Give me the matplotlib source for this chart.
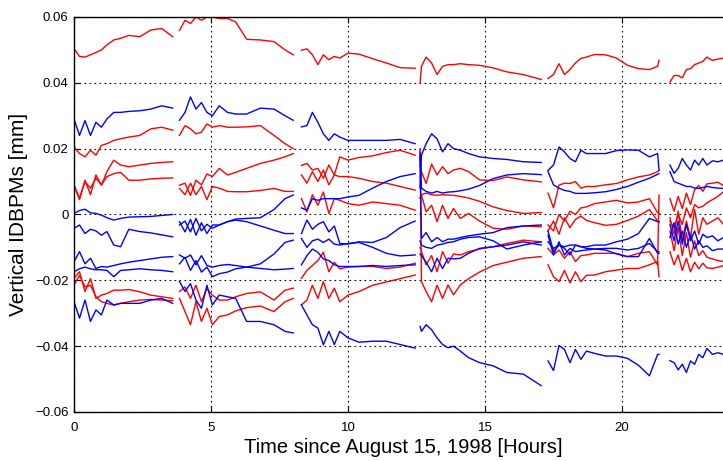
import matplotlib
matplotlib.use("Agg")
import matplotlib.pyplot as plt

plt.rcParams['font.family'] = ['Liberation Sans', 'DejaVu Sans']

# values are in units of 0.001 mm, time in hours since Aug 15, 1998
# each fill has its own time grid, 6 red and up to 6 blue BPM traces

t1 = [0, 0.2, 0.4, 0.6, 0.8, 1.0, 1.2, 1.45, 1.7, 2.0, 2.4, 2.8, 3.2, 3.6]
red1 = [
    [50.4, 48, 47.8, 48.5, 49.2, 50, 51.5, 53, 53.5, 54.4, 54, 56, 56.5, 54],
    [20.5, 18.5, 17.5, 19.5, 18, 21, 21.5, 22.5, 23, 23.5, 24, 26, 26.5, 25.6],
    [8.9, 4.5, 10.4, 6, 12, 8.9, 13, 16.5, 15, 14.5, 15, 15.5, 15.8, 16],
    [8.9, 5, 10, 8, 11, 9, 11.5, 12.4, 12.8, 10.4, 10.4, 10.8, 11, 11.1],
    [-19.4, -17.4, -23.4, -19.5, -25.5, -24.5, -24, -23, -23, -22.8, -23.5, -24.5, -25, -25.5],
    [-21.4, -18.5, -22, -21.5, -25, -26.5, -27, -27.5, -27, -26.5, -26, -25.8, -26, -26.2],
]
blue1 = [
    [29, 24, 28.5, 24, 28, 26.5, 29, 31, 31, 31.3, 31.5, 32, 33, 32.3],
    [0.3, 1.2, 1.6, 0.5, 0.3, -0.2, -1, -1.7, -1.2, -0.8, -0.7, -0.6, -0.3, 0],
    [-4.2, -3.2, -5.8, -4.5, -5, -6.3, -5.2, -9.3, -9.8, -4.5, -5.2, -5.6, -6.2, -6.8],
    [-14.3, -11.3, -15, -13.3, -16.4, -15.8, -16, -15.5, -15, -14.5, -14, -13.5, -13, -12.8],
    [-17.4, -16.5, -16, -16.5, -16.8, -16.8, -17, -18.9, -17, -16.8, -16.5, -16.8, -17, -17.4],
    [-26.5, -31.5, -26, -32.5, -29, -30.5, -26, -27.5, -27, -27, -27, -26, -25.5, -27],
]

t2 = [3.85, 4.05, 4.25, 4.45, 4.65, 4.85, 5.05, 5.3, 5.6, 5.9, 6.3, 6.8, 7.3, 7.7, 8.0]
red2 = [
    [55.9, 59, 58, 60, 59, 60, 60, 59.5, 59.5, 58.5, 53.2, 53, 52.5, 50, 48.5],
    [24, 27, 26, 24.5, 25, 27.5, 26.5, 27, 26.5, 26.5, 26.6, 27, 24, 21.5, 20],
    [8.9, 9.5, 5.8, 10.4, 9, 12.3, 11.5, 14, 12, 12.8, 14, 15.5, 16.5, 17.5, 18.5],
    [7.9, 6, 9.5, 6, 8.5, 4.5, 8.5, 8, 7, 6.9, 6.9, 7.3, 7.9, 7, 7],
    [-23.4, -22, -25.5, -21.5, -26.5, -22.5, -24.5, -26, -26, -25, -24, -23.5, -26, -23, -22.4],
    [-25.5, -29.5, -33.5, -26.5, -32.5, -28.5, -33.5, -31, -30.5, -29.3, -28.3, -27.8, -29.5, -26.5, -25.5],
]
blue2 = [
    [28.6, 31, 35.7, 32, 34, 31, 30, 33, 31, 30.5, 30.5, 32.3, 32, 30, 28.6],
    [-3.2, -2, -5.3, -1.2, -5, -3, -4.2, -3.2, -2.2, -1.4, -1.2, -1, 1.5, 4.8, 5.9],
    [-2.2, -5.3, -1.5, -6.3, -2.5, -5.8, -3.2, -3.2, -2.2, -1.7, -2.2, -3.5, -4.8, -5.8, -5.8],
    [-15, -13, -17, -14, -17.5, -16, -18.9, -18, -17.5, -16.5, -16, -15, -12, -8.5, -7.8],
    [-12.3, -13.3, -12.3, -15.3, -12.5, -15.5, -16, -15.5, -15.2, -15.5, -16, -16.4, -16.8, -16.6, -16.4],
    [-20.4, -23.4, -21, -26, -28.5, -21.5, -27.5, -24.5, -25, -25.5, -32.5, -32.5, -33.5, -35.5, -36],
]

t3 = [8.3, 8.5, 8.7, 8.9, 9.1, 9.3, 9.5, 9.7, 10.0, 10.4, 10.9, 11.4, 11.9, 12.45]
red3 = [
    [49.9, 50.3, 48.5, 45.5, 48.5, 47, 48, 47.5, 49, 48.7, 47.3, 46, 44.6, 44.4],
    [14.9, 15.5, 13.5, 14, 11, 15, 12, 17.5, 16.5, 17.3, 17.8, 18.8, 19.5, 18],
    [12, 9.5, 13, 10, 13.5, 9, 12, 11.5, 11.5, 11, 10, 9.5, 8.5, 7.4],
    [4.8, 0.8, 6, 2.8, 6.8, 0.3, 4.8, 4.3, 3.3, 2.8, 3.8, 3.3, 2.8, 1.3],
    [-19.4, -17, -15.5, -14, -11.5, -17.4, -14.5, -16.5, -16, -15.8, -15.8, -16.4, -16, -14.8],
    [-27.5, -26, -21.5, -25.5, -20.4, -25.5, -22.4, -26.5, -24.5, -23.4, -21.5, -20.5, -19.5, -18.4],
]
blue3 = [
    [26.6, 27, 31, 28, 24.5, 22.5, 24.5, 23.5, 22.5, 22.5, 22.5, 22.5, 22.8, 21.5],
    [2, 1.3, 4.8, 4.3, 4.8, 4.8, 4.8, 4.8, 5.3, 5.8, 8, 10, 11.5, 12.4],
    [-5.8, -1.7, -4.5, -3, -2.2, -5.3, -3.5, -8.8, -9, -8.3, -8.5, -7, -4, -2],
    [-7.3, -10, -8, -7.5, -8.5, -7.5, -9, -9.3, -8.8, -8.5, -10, -11.8, -12.6, -12.3],
    [-15.3, -12.5, -10.5, -11.5, -13.5, -14, -15.3, -15.8, -15.8, -15.8, -15.5, -15.8, -15.5, -15.3],
    [-27.5, -30.5, -33.5, -34.5, -39.6, -35.5, -39.5, -35.5, -37.5, -38.8, -38.5, -38.5, -39.5, -40.6],
]

t4 = [12.63, 12.68, 12.85, 13.05, 13.25, 13.45, 13.65, 13.85, 14.1, 14.4, 14.8, 15.3, 15.8, 16.4, 17.05]
red4 = [
    [39.8, 45, 47.8, 46, 42.5, 45, 45.5, 45.5, 45.8, 45.5, 45.3, 44.5, 43.3, 42.5, 41],
    [15, 13, 9.4, 15.3, 12, 14.5, 12.4, 13.5, 14, 13, 10.5, 10.3, 11.4, 10.5, 9.9],
    [5, 5.9, 0.8, 2.8, -2.2, 2.8, -1.2, 1.8, -1.2, 0.3, -2, -4.2, -4.5, -3.5, -3.7],
    [5, 6, 6.5, 6, 5.8, 6, 5.9, 5.8, 5.5, 5, 4, 2.3, 1.2, 0.3, 0.6],
    [-10, -11.3, -15.3, -12.5, -17.4, -11.3, -14.8, -12, -12.3, -11.3, -10.5, -9.8, -8.8, -7.8, -8.3],
    [20, -20.4, -23.4, -26.5, -21.5, -25.5, -21.4, -24.4, -21.4, -19.5, -17.5, -15.5, -14.5, -13.3, -12.8],
]
blue4 = [
    [8, 18, 21.5, 24.5, 23, 19, 21.5, 20, 19.5, 18.5, 17.5, 17, 16.7, 16, 15.8],
    [19, 8, 7, 6.5, 7, 6.5, 6.8, 6.9, 7.2, 7.7, 8.8, 10.9, 12, 12.4, 12.1],
    [18, -7.3, -5.5, -8.3, -7, -8.3, -7.5, -7.5, -7, -6.5, -6, -5.5, -4, -3.5, -3.2],
    [-8, -9.3, -10, -10.3, -9.3, -9, -8.5, -8.3, -7.5, -7, -6.8, -8, -10.5, -9.3, -8.3],
    [-12, -12.5, -14.5, -17.4, -13.3, -16.4, -13.3, -13.5, -13.3, -11.8, -10.3, -9.8, -9.3, -8.3, -9.3],
    [-34, -35.5, -33.5, -35, -37.5, -39.5, -40.5, -40, -41.5, -43.5, -45, -46, -48, -48.5, -52],
]

t5 = [17.3, 17.5, 17.7, 17.9, 18.1, 18.3, 18.5, 18.7, 19.0, 19.4, 19.8, 20.2, 20.6, 21.0, 21.3, 21.35]
red5 = [
    [41.3, 42.5, 45.8, 42.5, 44, 46, 47.4, 47.8, 48.6, 48.5, 47.5, 45.3, 44.3, 44, 45, 46.8],
    [6.5, 2, 8.9, 9.5, 9.4, 10, 8, 8.5, 8.5, 9, 9.4, 10.5, 11.4, 12, 13, 13.4],
    [-3.2, -5, 0, -2, 1, 0, 2, 2.3, 3.3, 3.8, 4.3, 3.5, 3.8, 4.8, 0.5, 0.3],
    [-5, -2, -6, -1, -4, -1.5, -0.5, -1.8, -2.5, -3.3, -3, -1.8, -0.5, 1.5, -2, -2.5],
    [-10.3, -12.3, -10.8, -13.3, -11.3, -14.3, -12.5, -12.3, -11.8, -11.8, -11.8, -12.8, -11.8, -11.3, -15.3, 5.9],
    [-15.3, -18.9, -20.4, -17, -20.8, -17.4, -20.4, -18.5, -18.4, -17.4, -16.9, -16.4, -16.4, -15.3, -14.3, -18.9],
]
blue5 = [
    [13.4, 15, 20.5, 19, 17, 16, 19.5, 18.5, 18.5, 18.5, 19.4, 19.6, 19.5, 17.5, 18.5, 13.5],
    [13, 9, 8, 7.3, 7, 6.4, 6.4, 6.4, 6.6, 6.9, 7.6, 8.5, 9.8, 11, 12.2, 12.4],
    [-5, -11.3, -9.3, -10.3, -12.3, -9.3, -9.8, -9.8, -9.3, -9.3, -8.3, -7.5, -5.8, -1.2, -2.2, -2.2],
    [-8.3, -10.3, -9.3, -9.8, -9.3, -9.3, -9.8, -10.3, -10.5, -10.8, -12, -12.8, -12.8, -7.3, -11.8, -11.8],
    [-6.3, -12.3, -8.3, -12.3, -10.3, -11.3, -11, -10.8, -10.5, -10.3, -10.3, -10.8, -10.3, -8.8, -11.3, -11.3],
    [-44.5, -47.4, -39.8, -41, -45, -41, -44, -41.5, -42.2, -43, -43, -43.7, -45.8, -49, -42.5, -42.5],
]

t6 = [21.75, 21.9, 22.05, 22.2, 22.35, 22.5, 22.65, 22.8, 22.95, 23.1, 23.3, 23.5, 23.7, 24.0]
red6 = [
    [40.2, 42.2, 42.2, 41.5, 44, 44.3, 45.5, 46, 46.5, 47.8, 46.8, 47.2, 47.5, 47.5],
    [4.8, 1, 5.5, 1.8, 6.5, 3, 7.5, 8.8, 7, 9.3, 9.5, 9.8, 8.8, 8.8],
    [-2, -4, 0, -3, 2, -1, 3, 2, 2.5, 3.5, 4.5, 5.5, 6.9, 7.5],
    [-1, -6, 1, -8, -2, -7, 1.5, -6, -1, -3, -2, -1, -3, -3],
    [-5, -11, -4, -12.5, -5.5, -13, -8, -12.5, -11, -13, -13.5, -14, -14.3, -14.3],
    [-11.3, -15.3, -12.3, -17, -13.3, -17.4, -14.5, -16.5, -14.8, -16.2, -16.4, -16, -15.5, -15.5],
]
blue6 = [
    [15, 12.5, 14, 17, 15, 13.5, 16.5, 15, 17, 15, 16.3, 16, 16.5, 16.5],
    [13, 10, 9.5, 9, 8.5, 8.5, 8, 7.9, 8.2, 8.5, 8.2, 8, 7.9, 7.9],
    [-3, -8, -2, -9, -3, -8, -5, -9, -6, -7, -6.5, -8, -7, -7],
    [-7, -2.5, -9, -5, -10, -6, -10.5, -8, -10, -9.5, -11, -10.5, -10.5, -10.5],
    [-44.4, -45, -47.2, -45.5, -48, -44.5, -45.5, -42.5, -43.5, -40.7, -42.5, -42, -42.5, -42],
]

segments = [(t1, red1, blue1), (t2, red2, blue2), (t3, red3, blue3),
            (t4, red4, blue4), (t5, red5, blue5), (t6, red6, blue6)]

yticks = [-0.06, -0.04, -0.02, 0, 0.02, 0.04, 0.06]
ytick_labels = ['\u22120.06', '\u22120.04', '\u22120.02', '0', '0.02', '0.04', '0.06']

fig = plt.figure(figsize=(7.23, 4.61), dpi=100)
# axes runs on past the right edge of the picture (cut off like the original)
ax = fig.add_axes([0.1024, 0.1063, 0.9095, 0.857])

for t, reds, blues in segments:
    for v in reds:
        ax.plot(t, [x * 1e-3 for x in v], color='#ff0000', lw=1.0)
    for v in blues:
        ax.plot(t, [x * 1e-3 for x in v], color='#0000ff', lw=1.0)

ax.set_xlim(0, 24)
ax.set_ylim(-0.06, 0.06)
ax.set_xticks([0, 5, 10, 15, 20])
ax.set_yticks(yticks)
ax.set_yticklabels(ytick_labels)
ax.grid(True, color='k', linestyle=(0, (1.5, 3)), lw=0.8)
ax.tick_params(direction='in', top=True, right=True, labelsize=9.5, length=4, width=0.8)
ax.tick_params(axis='x', pad=7)
ax.tick_params(axis='y', pad=4)
for s in ax.spines.values():
    s.set_linewidth(1.0)

ax.set_xlabel('Time since August 15, 1998 [Hours]', fontsize=14.5)
ax.set_ylabel('Vertical IDBPMs [mm]', fontsize=15)
ax.xaxis.set_label_coords(0.5, -0.067)
ax.yaxis.set_label_coords(-0.07, 0.5)

fig.savefig('out.png', dpi=100)
